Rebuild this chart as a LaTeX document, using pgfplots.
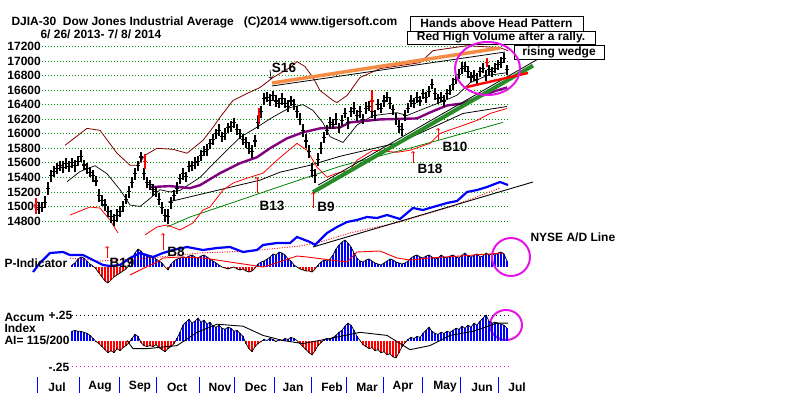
\documentclass[border=0pt]{standalone}
\usepackage{pgfplots}
\pgfplotsset{compat=1.18}
\usepackage{pgfplotstable}
\usepackage{fontspec}
\setmainfont{Liberation Sans}
\definecolor{gridgreen}{RGB}{0,150,0}
\definecolor{maroon}{RGB}{128,0,0}
\definecolor{purp}{RGB}{128,0,128}
\definecolor{orng}{RGB}{245,140,70}
\definecolor{dkgreen}{RGB}{40,140,40}
\definecolor{mag}{RGB}{230,20,230}
\definecolor{adblue}{RGB}{0,0,255}
\definecolor{ltgreen}{RGB}{0,128,0}

% x = position in pixels along the time axis, m = mid of daily range, r = half range,
% p = P-Indicator, a = Accumulation Index
\pgfplotstableread{
x m r p a
36 15010 80 nan nan
39 14980 80 nan nan
42 14990 70 nan nan
45 15060 80 nan nan
48 15250 90 nan nan
51 15420 80 nan nan
54 15480 70 nan nan
57 15520 80 nan nan
60 15560 70 nan nan
63 15540 80 nan nan
66 15590 70 nan nan
69 15550 80 nan nan
72 15600 70 2 0.09
75 15560 80 4 0.10
78 15620 70 8 0.09
81 15690 80 10 0.09
84 15570 70 9 0.08
87 15520 80 6 0.07
90 15470 70 3 0.05
93 15420 80 1 0.02
96 15350 70 -2 -0.01
99 15150 90 -6 -0.03
102 15080 80 -10 -0.06
105 15020 80 -14 -0.09
108 14930 80 -16 -0.12
111 14860 90 -13 -0.10
114 14810 80 -10 -0.12
117 14870 90 -8 -0.08
120 14930 80 -6 -0.10
123 15000 80 -4 -0.07
126 15100 70 -2 -0.05
129 15200 80 2 -0.02
132 15330 70 8 0.02
135 15450 80 14 0.06
138 15560 70 18 0.04
141 15680 70 16 -0.02
144 15450 80 12 -0.05
147 15330 80 11 -0.06
150 15300 70 9 -0.05
153 15230 80 10 -0.06
156 15200 70 8 -0.04
159 15100 80 6 -0.07
162 14980 80 4 -0.09
165 14880 90 0 -0.11
168 14860 100 -3 -0.08
171 15050 80 3 -0.06
174 15150 70 6 -0.03
177 15250 80 8 0.02
180 15380 70 9 0.08
183 15450 80 10 0.15
186 15410 70 9 0.18
189 15550 80 11 0.21
192 15560 70 12 0.17
195 15600 80 10 0.19
198 15620 70 9 0.22
201 15700 80 11 0.18
204 15760 70 12 0.20
207 15780 80 10 0.16
210 15860 70 8 0.18
213 15920 80 6 0.14
216 16000 70 4 0.13
219 16050 80 2 0.15
222 15960 70 0 0.12
225 16000 80 -1 0.11
228 16080 70 -2 0.13
231 16100 80 -1 0.12
234 16150 70 0 0.09
237 16060 80 -2 0.10
240 16000 70 -3 0.07
243 15920 80 -2 0.04
246 15880 70 -4 -0.03
249 15800 80 -5 -0.08
252 15760 90 -4 -0.11
255 15900 80 -1 -0.06
258 16150 90 3 -0.03
261 16300 80 5 -0.01
264 16480 80 6 0.01
267 16500 70 8 0.00
270 16460 80 10 0.02
273 16520 70 13 0.01
276 16450 80 12 -0.01
279 16420 70 15 0.01
282 16480 80 14 0.00
285 16420 70 12 0.02
288 16380 80 8 0.01
291 16450 70 6 0.03
294 16400 80 2 0.02
297 16300 80 0 0.00
300 16200 80 -2 -0.03
303 16050 90 -3 -0.06
306 15900 90 -4 -0.09
309 15750 90 -4 -0.12
312 15500 100 -5 -0.14
315 15420 100 -2 -0.10
318 15650 90 2 -0.05
321 15800 80 5 -0.02
324 15950 80 7 0.01
327 16050 70 6 0.02
330 16150 80 8 0.01
333 16130 70 12 0.03
336 16200 80 18 0.05
339 16080 70 22 0.08
342 16180 80 25 0.10
345 16280 70 27 0.14
348 16150 80 24 0.17
351 16300 70 20 0.15
354 16350 80 14 0.10
357 16250 70 9 0.04
360 16300 80 6 0.00
363 16200 70 5 -0.04
366 16350 80 7 -0.06
369 16380 70 8 -0.08
372 16300 80 6 -0.07
375 16250 70 4 -0.10
378 16400 80 3 -0.09
381 16350 70 2 -0.12
384 16450 80 4 -0.11
387 16500 70 6 -0.14
390 16420 80 8 -0.13
393 16330 70 7 -0.16
396 16200 80 5 -0.17
399 16100 90 4 -0.12
402 16060 90 3 -0.06
405 16250 80 4 -0.02
408 16350 70 6 0.01
411 16450 80 9 0.03
414 16420 70 11 0.02
417 16500 80 12 0.04
420 16450 70 10 0.03
423 16550 70 9 0.07
426 16500 80 11 0.10
429 16580 70 12 0.13
432 16680 70 10 0.09
435 16550 80 8 0.07
438 16480 70 9 0.06
441 16500 70 12 0.08
444 16450 80 10 0.07
447 16550 70 9 0.09
450 16600 70 11 0.08
453 16680 80 12 0.10
456 16750 70 10 0.12
459 16820 70 9 0.11
462 16900 80 12 0.14
465 16920 70 14 0.12
468 16850 80 11 0.15
471 16780 70 10 0.13
474 16800 70 12 0.17
477 16750 80 13 0.15
480 16850 70 10 0.19
483 16900 70 11 0.22
486 16800 80 14 0.25
489 16880 70 12 0.19
492 16850 70 13 0.17
495 16900 70 12 0.18
498 16950 70 14 0.17
501 16980 70 15 0.16
504 17040 70 13 0.15
507 16880 70 6 0.12
}\daily

\pgfplotstableread{
x m r
36 15010 110
145 15620 100
259 16250 110
372 16450 150
487 16980 60
}\redbars

\pgfplotsset{panel/.style={scale only axis, width=800pt, height=397pt,
  at={(0pt,0pt)}, anchor=south west, xmin=0, xmax=800, hide axis, clip=false}}

\begin{document}
\begin{tikzpicture}[font=\fontsize{12}{14}\selectfont\bfseries]
% ---------------- price panel ----------------
\begin{axis}[panel, ymin=12379.3, ymax=17839.6]
\pgfplotsinvokeforeach{14800,15000,15200,15400,15600,15800,16000,16200,16400,16600,16800,17000,17200}{
  \addplot[gridgreen, line width=0.8pt, dash pattern=on 0.8pt off 2.2pt] coordinates {(42,#1) (510,#1)};
  \node[anchor=east, inner sep=0pt] at (axis cs:41,#1) {#1};
}
% green long-term average
\addplot[ltgreen, line width=0.8pt] coordinates {(167,14718) (190,14855) (290,15321) (340,15553) (413,15814) (503,16156)};
% black long-term average
\addplot[black, line width=0.8pt] coordinates {(168,15060) (260,15362) (280,15471) (310,15567) (340,15690) (400,15882) (463,16279) (507,16375)};
% upper band
\addplot[maroon, line width=0.8pt] coordinates {(65,15841) (87,16074) (100,16047) (117,15732) (130,15567) (138,15567) (145,15704) (157,15800) (173,15786) (187,15732) (203,15910) (213,16088) (220,16225) (233,16458) (247,16554) (260,16636) (273,16773) (290,16910) (297,16992) (305,16924) (313,16773) (320,16595) (333,16458) (337,16430) (347,16526) (360,16773) (380,16896) (400,16937) (420,16978) (433,17143) (467,17211) (500,17184) (508,17143)};
% lower band
\addplot[red, line width=0.8pt] coordinates {(70,14882) (90,14992) (100,14978) (110,14814) (118,14636)};
\addplot[red, line width=0.8pt] coordinates {(145,14608) (157,14718) (167,14745) (180,14677) (193,14773) (203,14951) (210,14992) (223,15225) (233,15321) (247,15389) (263,15458) (277,15636) (297,15868) (307,15773) (317,15540) (327,15403) (337,15458) (350,15499) (357,15636) (373,15773) (397,15745) (410,15773) (430,15868) (440,16005) (463,16115) (477,16184) (490,16279) (507,16348)};
% 21-day average
\addplot[black, line width=0.7pt] coordinates {(67,15340) (80,15480) (95,15560) (107,15450) (120,15230) (130,15020) (140,15000) (150,15110) (160,15230) (170,15200) (180,15220) (200,15400) (220,15680) (240,15950) (257,16090) (273,16230) (290,16360) (303,16400) (313,16320) (323,16150) (330,15960) (343,15880) (357,16120) (373,16250) (397,16290) (407,16250) (423,16340) (440,16430) (457,16530) (470,16700) (487,16800) (507,16840)};
% 50-day average
\addplot[purp, line width=2.4pt] coordinates {(150,15266) (170,15280) (190,15252) (200,15293) (220,15458) (240,15595) (257,15677) (270,15800) (287,15937) (303,16019) (320,16074) (340,16088) (350,16156) (380,16197) (417,16211) (430,16293) (447,16389) (463,16417) (477,16499) (497,16595) (507,16636)};
% daily bars
\addplot[black, line width=1.1pt, only marks, mark=-, mark size=1.6pt,
  error bars/.cd, y dir=both, y explicit, error mark=none,
  error bar style={line width=1.1pt}] table[x=x, y=m, y error=r]{\daily};
\addplot[red, line width=1.1pt, only marks, mark=-, mark size=1.6pt, mark options={red},
  error bars/.cd, y dir=both, y explicit, error mark=none,
  error bar style={line width=1.1pt, red}] table[x=x, y=m, y error=r]{\redbars};
% trend lines
\addplot[black, line width=0.8pt] coordinates {(272,16657) (505,17124)};
\addplot[orng, line width=3.5pt] coordinates {(272,16698) (500,17179)};
\addplot[black, line width=0.8pt] coordinates {(318,15293) (537,17019)};
\addplot[dkgreen, line width=4pt] coordinates {(313,15197) (533,16937)};
\addplot[red, line width=2.4pt] coordinates {(467,16643) (528,16836)};
\end{axis}

% ---------------- P-Indicator panel (pixel units above baseline) ----------------
\begin{axis}[panel, ymin=-130, ymax=267]
\addplot[blue, ycomb, line width=1.2pt, restrict y to domain=0:1000] table[x=x, y=p]{\daily};
\addplot[red, ycomb, line width=1.2pt, restrict y to domain=-1000:0] table[x=x, y=p]{\daily};
\addplot[black, line width=0.7pt] table[x=x, y=p]{\daily};
\addplot[red, line width=0.9pt] coordinates {(130,-8) (140,-3) (157,5) (163,9) (180,10) (203,9) (217,7) (230,5) (250,2) (263,0) (270,2) (297,11) (307,10) (347,5) (357,15) (380,16) (397,9) (410,7) (430,9) (460,11) (503,14)};
% NYSE A/D line
\addplot[red, line width=0.9pt, dash pattern=on 1pt off 1.5pt] coordinates {(70,9) (100,6) (150,9) (200,14) (250,16) (300,21) (320,25) (350,34) (400,45) (450,60) (500,79)};
\addplot[black, line width=0.9pt] coordinates {(313,20) (533,85)};
\addplot[adblue, line width=2.2pt] coordinates {(33,-5) (40,4) (50,14) (63,15) (70,12) (83,12) (97,5) (103,2) (110,1) (120,2) (130,9) (140,14) (153,10) (163,14) (173,17) (187,20) (203,17) (217,19) (230,20) (243,15) (257,17) (263,22) (277,24) (290,24) (297,30) (310,25) (315,22) (327,34) (337,40) (347,45) (357,47) (367,50) (377,49) (387,52) (400,48) (413,59) (423,57) (433,60) (447,64) (457,66) (467,75) (477,77) (487,80) (500,85) (508,82)};
% texts
\node[anchor=west] at (axis cs:8,245) {DJIA-30~~Dow Jones Industrial Average~~~(C)2014 www.tigersoft.com};
\node[anchor=west] at (axis cs:37,233) {6/ 26/ 2013- 7/ 8/ 2014};
\node[draw, fill=white, line width=0.8pt, minimum width=173pt, minimum height=15pt, inner sep=0pt] at (axis cs:496.5,243.5) {Hands above Head Pattern};
\node[draw, fill=white, line width=0.8pt, minimum width=188pt, minimum height=13pt, inner sep=0pt] at (axis cs:501,229.5) {Red High Volume after a rally.};
\node[draw, fill=white, line width=0.8pt, minimum width=90pt, minimum height=14pt, inner sep=0pt] at (axis cs:559,215) {rising wedge};
\node[anchor=west] at (axis cs:527,30) {NYSE A/D Line};
\node[anchor=west] at (axis cs:1,4) {P-Indicator};
\node[anchor=west] at (axis cs:1,-50) {Accum};
\node[anchor=west] at (axis cs:1,-61) {Index};
\node[anchor=west] at (axis cs:1,-73) {AI= 115/200};
\node[anchor=west] at (axis cs:45,-48) {+.25};
\node[anchor=west] at (axis cs:45,-100) {-.25};
\begin{scope}[font=\fontsize{13.5}{15}\selectfont\bfseries]
\node at (axis cs:284,199) {S16};
\node at (axis cs:272,61) {B13};
\node at (axis cs:326,60) {B9};
\node at (axis cs:176,15) {B8};
\node at (axis cs:122,4) {B19};
\node at (axis cs:430,98) {B18};
\node at (axis cs:455,120) {B10};
\end{scope}
\draw[black, line width=0.7pt, ->] (axis cs:270,197) -- (axis cs:271,188);
\draw[red, line width=0.7pt, ->] (axis cs:107,9) -- (axis cs:107,21);
\draw[red, line width=0.7pt, ->] (axis cs:163,17) -- (axis cs:163,34);
\draw[red, line width=0.7pt, ->] (axis cs:257,74) -- (axis cs:257,90);
\draw[red, line width=0.7pt, ->] (axis cs:313,59) -- (axis cs:313,75);
\draw[red, line width=0.7pt, ->] (axis cs:413,104) -- (axis cs:413,116);
\draw[red, line width=0.7pt, ->] (axis cs:438,127) -- (axis cs:438,139);
% circles
\draw[mag, line width=2pt] (axis cs:487.5,198.5) ellipse [x radius=32.5pt, y radius=26.5pt];
\draw[mag, line width=2pt] (axis cs:511,10) ellipse [x radius=19pt, y radius=19pt];
\draw[mag, line width=2pt] (axis cs:506,-58) ellipse [x radius=16pt, y radius=15pt];
% months
\pgfplotsinvokeforeach{37.7,79,119,156.7,199,234,274,311,346.7,383,422.7,460.7,498.3}{
  \draw[blue, line width=1pt] (axis cs:#1,-110) -- (axis cs:#1,-126);
}
\node at (axis cs:57,-120) {Jul};
\node at (axis cs:100,-120) {Aug};
\node at (axis cs:140,-120) {Sep};
\node at (axis cs:177,-120) {Oct};
\node at (axis cs:220,-120) {Nov};
\node at (axis cs:256,-120) {Dec};
\node at (axis cs:293,-120) {Jan};
\node at (axis cs:332,-120) {Feb};
\node at (axis cs:367,-120) {Mar};
\node at (axis cs:403,-120) {Apr};
\node at (axis cs:445,-120) {May};
\node at (axis cs:482,-120) {Jun};
\node at (axis cs:517,-120) {Jul};
\end{axis}

% ---------------- Accumulation Index panel ----------------
\begin{axis}[panel, ymin=-0.5539, ymax=3.3382]
\addplot[black, line width=0.8pt, dash pattern=on 0.8pt off 3.2pt] coordinates {(72,0.25) (512,0.25)};
\addplot[mag, line width=0.8pt, dash pattern=on 0.8pt off 3.2pt] coordinates {(72,-0.25) (512,-0.25)};
\addplot[blue, ycomb, line width=1.2pt, restrict y to domain=0:10] table[x=x, y=a]{\daily};
\addplot[red, ycomb, line width=1.2pt, restrict y to domain=-10:0] table[x=x, y=a]{\daily};
\addplot[black, line width=0.7pt] table[x=x, y=a]{\daily};
\addplot[black, line width=0.9pt] coordinates {(127,0) (133,-0.08) (147,-0.08) (177,-0.05) (197,0.08) (217,0.16) (243,0.14) (263,0.05) (283,0) (303,-0.03) (330,0.02) (360,0.08) (387,0.05) (410,-0.09) (430,-0.05) (450,0.05) (473,0.09) (497,0.17) (508,0.17)};
\end{axis}
\pgfresetboundingbox
\useasboundingbox (0,0) rectangle (800pt,397pt);
\end{tikzpicture}
\end{document}
